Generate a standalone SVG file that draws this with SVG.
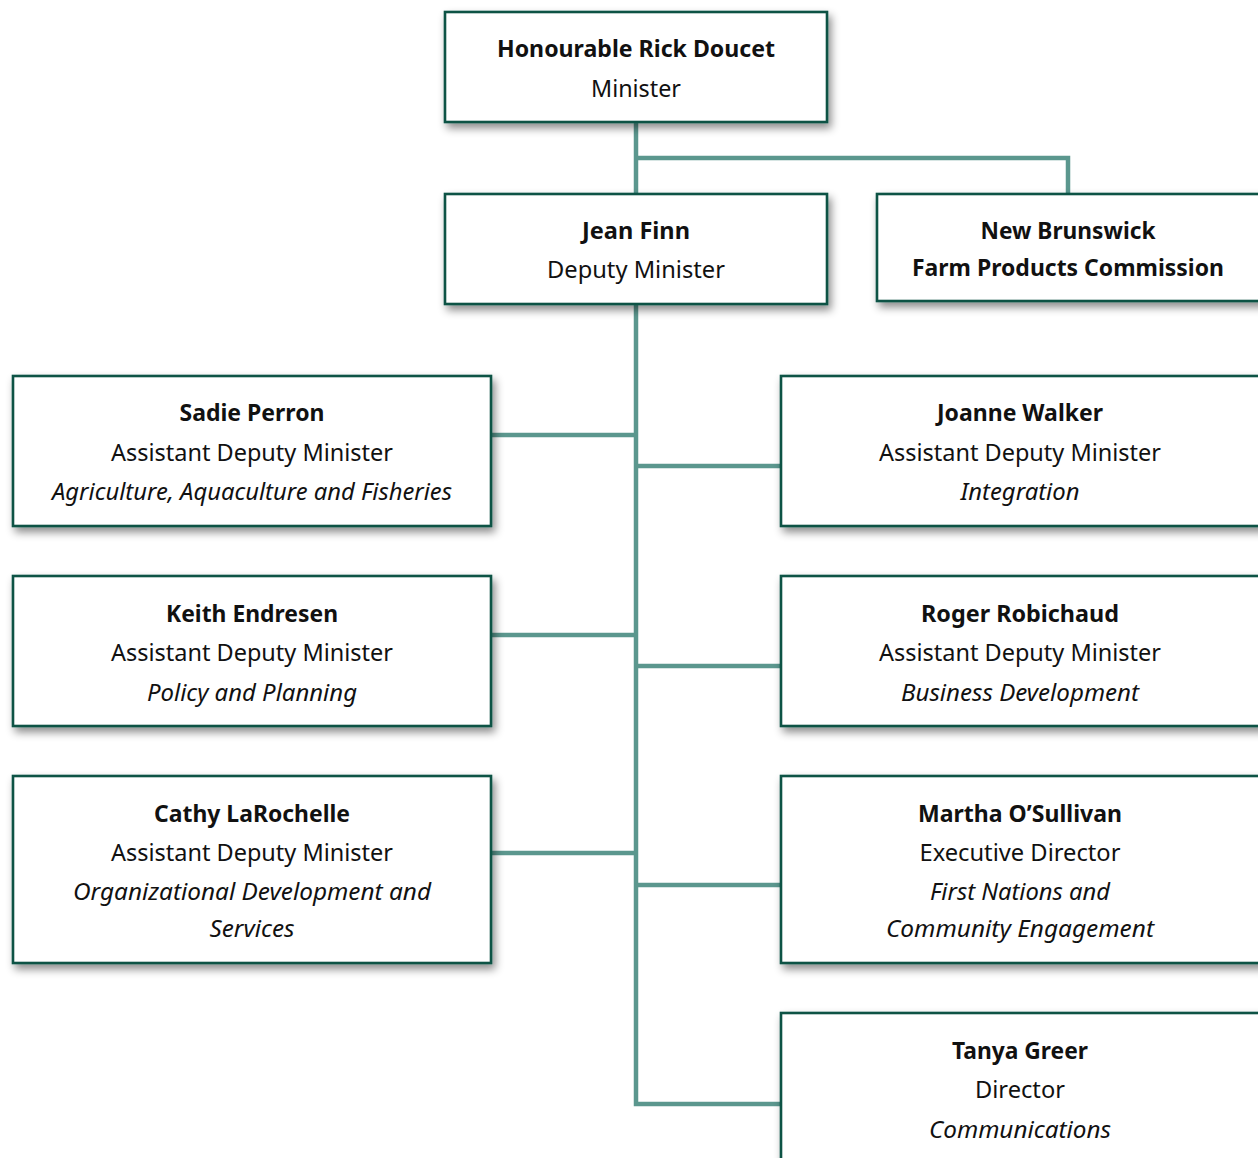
<svg xmlns="http://www.w3.org/2000/svg" width="1258" height="1158" viewBox="0 0 1258 1158">
<defs>
<filter id="sh" x="-10%" y="-20%" width="125%" height="150%">
<feDropShadow dx="3" dy="5" stdDeviation="4" flood-color="#000" flood-opacity="0.45"/>
</filter>
<style>
.box{fill:#fff;stroke:#0e5244;stroke-width:2.6;filter:url(#sh)}
.c{fill:none;stroke:#5b978e;stroke-width:4.5}
text{font-family:"Noto Sans","Open Sans","Liberation Sans",sans-serif;font-size:23px;fill:#111;text-anchor:middle}
.b{font-weight:bold}
.i{font-style:italic}
</style>
</defs>
<rect width="1258" height="1158" fill="#fff"/>
<g id="connectors">
<path class="c" d="M636 122V194M636 158H1068V194M636 304V1104H781M491 435H636M491 635H636M491 853H636M636 466H781M636 666H781M636 885H781"/>
</g>
<g id="minister">
<rect class="box" x="445" y="12" width="382" height="110"/>
<text class="b" x="636" y="57" textLength="278" lengthAdjust="spacingAndGlyphs">Honourable Rick Doucet</text>
<text x="636" y="97" textLength="90" lengthAdjust="spacingAndGlyphs">Minister</text>
</g>
<g id="deputy">
<rect class="box" x="445" y="194" width="382" height="110"/>
<text class="b" x="636" y="239" textLength="108" lengthAdjust="spacingAndGlyphs">Jean Finn</text>
<text x="636" y="278" textLength="178" lengthAdjust="spacingAndGlyphs">Deputy Minister</text>
</g>
<g id="nbfpc">
<rect class="box" x="877" y="194" width="386" height="107"/>
<text class="b" x="1068" y="239" textLength="175" lengthAdjust="spacingAndGlyphs">New Brunswick</text>
<text class="b" x="1068" y="276" textLength="312" lengthAdjust="spacingAndGlyphs">Farm Products Commission</text>
</g>
<g id="sadie">
<rect class="box" x="13" y="376" width="478" height="150"/>
<text class="b" x="252" y="421" textLength="145" lengthAdjust="spacingAndGlyphs">Sadie Perron</text>
<text x="252" y="461" textLength="282" lengthAdjust="spacingAndGlyphs">Assistant Deputy Minister</text>
<text class="i" x="252" y="500" textLength="400" lengthAdjust="spacingAndGlyphs">Agriculture, Aquaculture and Fisheries</text>
</g>
<g id="keith">
<rect class="box" x="13" y="576" width="478" height="150"/>
<text class="b" x="252" y="622" textLength="172" lengthAdjust="spacingAndGlyphs">Keith Endresen</text>
<text x="252" y="661" textLength="282" lengthAdjust="spacingAndGlyphs">Assistant Deputy Minister</text>
<text class="i" x="252" y="701" textLength="210" lengthAdjust="spacingAndGlyphs">Policy and Planning</text>
</g>
<g id="cathy">
<rect class="box" x="13" y="776" width="478" height="187"/>
<text class="b" x="252" y="822" textLength="196" lengthAdjust="spacingAndGlyphs">Cathy LaRochelle</text>
<text x="252" y="861" textLength="282" lengthAdjust="spacingAndGlyphs">Assistant Deputy Minister</text>
<text class="i" x="252" y="900" textLength="358" lengthAdjust="spacingAndGlyphs">Organizational Development and</text>
<text class="i" x="252" y="937" textLength="85" lengthAdjust="spacingAndGlyphs">Services</text>
</g>
<g id="joanne">
<rect class="box" x="781" y="376" width="482" height="150"/>
<text class="b" x="1020" y="421" textLength="166" lengthAdjust="spacingAndGlyphs">Joanne Walker</text>
<text x="1020" y="461" textLength="282" lengthAdjust="spacingAndGlyphs">Assistant Deputy Minister</text>
<text class="i" x="1020" y="500" textLength="119" lengthAdjust="spacingAndGlyphs">Integration</text>
</g>
<g id="roger">
<rect class="box" x="781" y="576" width="482" height="150"/>
<text class="b" x="1020" y="622" textLength="198" lengthAdjust="spacingAndGlyphs">Roger Robichaud</text>
<text x="1020" y="661" textLength="282" lengthAdjust="spacingAndGlyphs">Assistant Deputy Minister</text>
<text class="i" x="1020" y="701" textLength="238" lengthAdjust="spacingAndGlyphs">Business Development</text>
</g>
<g id="martha">
<rect class="box" x="781" y="776" width="482" height="187"/>
<text class="b" x="1020" y="822" textLength="204" lengthAdjust="spacingAndGlyphs">Martha O’Sullivan</text>
<text x="1020" y="861" textLength="201" lengthAdjust="spacingAndGlyphs">Executive Director</text>
<text class="i" x="1020" y="900" textLength="180" lengthAdjust="spacingAndGlyphs">First Nations and</text>
<text class="i" x="1020" y="937" textLength="268" lengthAdjust="spacingAndGlyphs">Community Engagement</text>
</g>
<g id="tanya">
<rect class="box" x="781" y="1013" width="482" height="160"/>
<text class="b" x="1020" y="1059" textLength="136" lengthAdjust="spacingAndGlyphs">Tanya Greer</text>
<text x="1020" y="1098" textLength="90" lengthAdjust="spacingAndGlyphs">Director</text>
<text class="i" x="1020" y="1138" textLength="182" lengthAdjust="spacingAndGlyphs">Communications</text>
</g>
</svg>
